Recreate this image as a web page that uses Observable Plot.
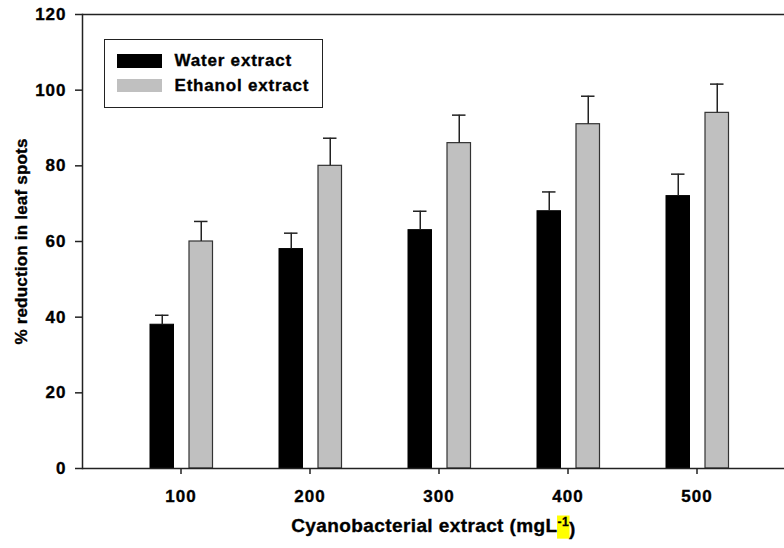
<!DOCTYPE html>
<html><head><meta charset="utf-8">
<script src="https://cdn.jsdelivr.net/npm/d3@7"></script>
<script src="https://cdn.jsdelivr.net/npm/@observablehq/plot@0.6"></script>
<style>
html,body{margin:0;padding:0;background:#fff;overflow:hidden;}
#wrap{position:relative;width:784px;height:548px;overflow:hidden;}
#wrap svg{display:block;}
#wrap svg text{stroke:#000;stroke-width:0.35px;}
#wrap svg [aria-label="y-axis tick label"] text,#wrap svg [aria-label="x-axis tick label"] text{letter-spacing:1px;}
#wrap svg [aria-label="y-axis label"] text{letter-spacing:0.2px;}
#wrap svg [aria-label="x-axis label"] text{letter-spacing:0.4px;font-size:19px;}
.legend{position:absolute;left:104px;top:39px;width:219px;height:69px;box-sizing:border-box;border:1.5px solid #222;background:#fff;font:bold 17px "Liberation Sans",Arial,sans-serif;letter-spacing:0.8px;color:#000;-webkit-text-stroke:0.35px #000;}
.sw{position:absolute;left:11.5px;width:45px;}
.lt{position:absolute;left:69.5px;line-height:20px;white-space:nowrap;}
</style>
</head><body>
<div id="wrap"></div>
<script>
const doses = ["100", "200", "300", "400", "500"];
const series = ["Water extract", "Ethanol extract"];
const waterMean = [38, 58, 63, 68, 72];
const waterSE = [2.5, 4.2, 5.0, 5.1, 5.8];
const ethanolMean = [60, 80, 86, 91, 94];
const ethanolSE = [5.3, 7.3, 7.4, 7.4, 7.6];
const yTicks = [0, 20, 40, 60, 80, 100, 120];
const colors = ["#000000", "#c0c0c0"];
const xTitle = "Cyanobacterial extract (mgL";
const xSup = "-1";
const yTitle = "% reduction in leaf spots";

const water = doses.map((d, i) => ({dose: d, series: series[0], mean: waterMean[i], se: waterSE[i]}));
const ethanol = doses.map((d, i) => ({dose: d, series: series[1], mean: ethanolMean[i], se: ethanolSE[i]}));
const errTop = d => d.mean + d.se;

const chart = Plot.plot({
  width: 784, height: 548,
  marginLeft: 82, marginRight: 0, marginTop: 14, marginBottom: 80,
  style: {fontFamily: "'Liberation Sans', Arial, sans-serif", fontSize: "17px", fontWeight: "bold", color: "#000", background: "#fff"},
  x: {type: "band", domain: doses, range: [114.25, 761.75], padding: 0},
  y: {domain: [0, 120]},
  marks: [
    Plot.barY(water, {x: "dose", y: "mean", fill: colors[0], stroke: "#000", strokeWidth: 1, insetLeft: 34, insetRight: 71.5}),
    Plot.barY(ethanol, {x: "dose", y: "mean", fill: colors[1], stroke: "#333", strokeWidth: 1.2, insetLeft: 73, insetRight: 32.5}),
    Plot.ruleX(water, {x: "dose", y1: "mean", y2: errTop, dx: -18.75, stroke: "#222", strokeWidth: 1.5}),
    Plot.tickY(water, {x: "dose", y: errTop, insetLeft: 39, insetRight: 76.5, stroke: "#222", strokeWidth: 1.5}),
    Plot.ruleX(ethanol, {x: "dose", y1: "mean", y2: errTop, dx: 20.25, stroke: "#222", strokeWidth: 1.5}),
    Plot.tickY(ethanol, {x: "dose", y: errTop, insetLeft: 78, insetRight: 37.5, stroke: "#222", strokeWidth: 1.5}),
    Plot.ruleY([0, 120], {stroke: "#222", strokeWidth: 1.5}),
    Plot.frame({anchor: "left", stroke: "#222", strokeWidth: 1.5}),
    Plot.axisY({ticks: yTicks, tickSize: 7, tickPadding: 9, stroke: "#222", strokeWidth: 1.5, label: yTitle, labelAnchor: "center", labelOffset: 68, labelArrow: false}),
    Plot.axisX({tickSize: 6, tickPadding: 15, stroke: "#222", strokeWidth: 1.5, label: xTitle, labelAnchor: "center", labelOffset: 63, labelArrow: false})
  ]
});
const wrap = document.getElementById("wrap");
wrap.appendChild(chart);

// superscript with highlight on x-axis title
const lab = chart.querySelector('[aria-label="x-axis label"] text');
if (lab) {
  lab.textContent = "";
  const t1 = document.createElementNS("http://www.w3.org/2000/svg", "tspan");
  t1.textContent = xTitle;
  const t2 = document.createElementNS("http://www.w3.org/2000/svg", "tspan");
  t2.textContent = xSup; t2.setAttribute("dy", "-0.45em"); t2.setAttribute("font-size", "12px");
  const t3 = document.createElementNS("http://www.w3.org/2000/svg", "tspan");
  t3.textContent = ")"; t3.setAttribute("dy", "0.45em");
  lab.append(t1, t2, t3);
  const n = xTitle.length;
  const a = lab.getExtentOfChar(n), b = lab.getExtentOfChar(n + xSup.length - 1);
  const bb = lab.getBBox();
  const r = document.createElementNS("http://www.w3.org/2000/svg", "rect");
  r.setAttribute("x", a.x - 0.5);
  r.setAttribute("width", b.x + b.width - a.x + 1);
  r.setAttribute("y", bb.y + 1);
  r.setAttribute("height", bb.height - 1);
  r.setAttribute("fill", "#ffff00");
  if (lab.getAttribute("transform")) r.setAttribute("transform", lab.getAttribute("transform"));
  lab.parentNode.insertBefore(r, lab);
}

// legend
const lg = document.createElement("div");
lg.className = "legend";
const swTop = [13.5, 38.5], swH = [14, 13], txTop = [10.5, 35.5];
series.forEach((s, i) => {
  const sw = document.createElement("div");
  sw.className = "sw"; sw.style.top = swTop[i] + "px"; sw.style.height = swH[i] + "px"; sw.style.background = colors[i];
  const tx = document.createElement("div");
  tx.className = "lt"; tx.style.top = txTop[i] + "px"; tx.textContent = s;
  lg.append(sw, tx);
});
wrap.appendChild(lg);
</script>
</body></html>
